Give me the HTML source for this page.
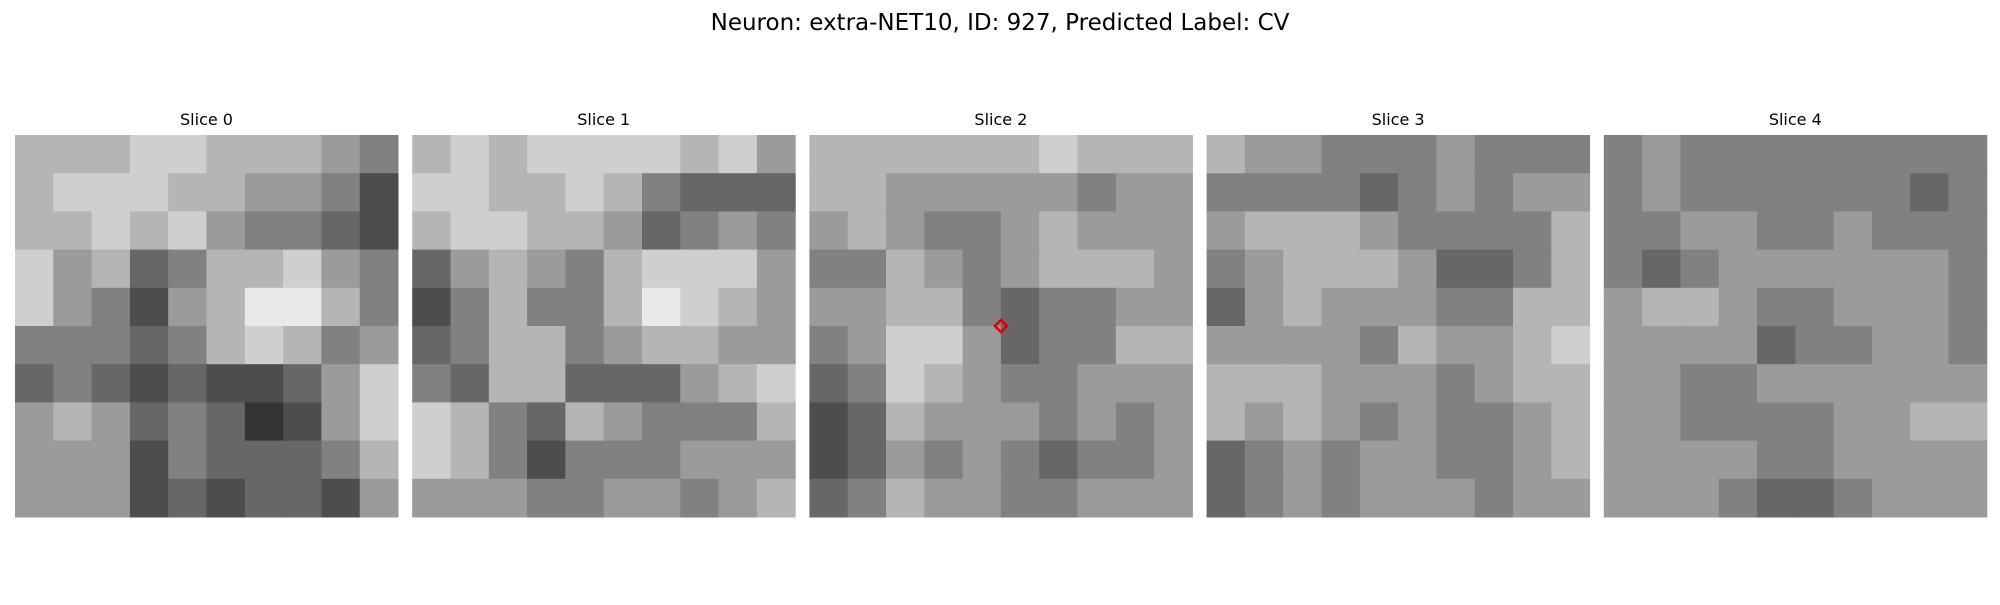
<!DOCTYPE html>
<html><head><meta charset="utf-8"><style>
body{margin:0;background:#fff;width:2000px;height:600px;overflow:hidden;font-family:"Liberation Sans","DejaVu Sans",sans-serif}
</style></head><body>
<svg id="chart" width="2000" height="600" xmlns="http://www.w3.org/2000/svg">
<text x="1000" y="30" text-anchor="middle" font-size="23" fill="#000" font-family="DejaVu Sans, sans-serif">Neuron: extra-NET10, ID: 927, Predicted Label: CV</text>
<g id="panels"></g>
</svg>
<script>
const sliceTitles = ["Slice 0","Slice 1","Slice 2","Slice 3","Slice 4"];
const slice0 = [[6,6,6,7,7,6,6,6,5,4],[6,7,7,7,6,6,5,5,4,2],[6,6,7,6,7,5,4,4,3,2],[7,5,6,3,4,6,6,7,5,4],[7,5,4,2,5,6,8,8,6,4],[4,4,4,3,4,6,7,6,4,5],[3,4,3,2,3,2,2,3,5,7],[5,6,5,3,4,3,1,2,5,7],[5,5,5,2,4,3,3,3,4,6],[5,5,5,2,3,2,3,3,2,5]];
const slice1 = [[6,7,6,7,7,7,7,6,7,5],[7,7,6,6,7,6,4,3,3,3],[6,7,7,6,6,5,3,4,5,4],[3,5,6,5,4,6,7,7,7,5],[2,4,6,4,4,6,8,7,6,5],[3,4,6,6,4,5,6,6,5,5],[4,3,6,6,3,3,3,5,6,7],[7,6,4,3,6,5,4,4,4,6],[7,6,4,2,4,4,4,5,5,5],[5,5,5,4,4,5,5,4,5,6]];
const slice2 = [[6,6,6,6,6,6,7,6,6,6],[6,6,5,5,5,5,5,4,5,5],[5,6,5,4,4,5,6,5,5,5],[4,4,6,5,4,5,6,6,6,5],[5,5,6,6,4,3,4,4,5,5],[4,5,7,7,5,3,4,4,6,6],[3,4,7,6,5,4,4,5,5,5],[2,3,6,5,5,5,4,5,4,5],[2,3,5,4,5,4,3,4,4,5],[3,4,6,5,5,4,4,5,5,5]];
const slice3 = [[6,5,5,4,4,4,5,4,4,4],[4,4,4,4,3,4,5,4,5,5],[5,6,6,6,5,4,4,4,4,6],[4,5,6,6,6,5,3,3,4,6],[3,5,6,5,5,5,4,4,6,6],[5,5,5,5,4,6,5,5,6,7],[6,6,6,5,5,5,4,5,6,6],[6,5,6,5,4,5,4,4,5,6],[3,4,5,4,5,5,4,4,5,6],[3,4,5,4,5,5,5,4,5,5]];
const slice4 = [[4,5,4,4,4,4,4,4,4,4],[4,5,4,4,4,4,4,4,3,4],[4,4,5,5,4,4,5,4,4,4],[4,3,4,5,5,5,5,5,5,4],[5,6,6,5,4,4,5,5,5,4],[5,5,5,5,3,4,4,5,5,4],[5,5,4,4,5,5,5,5,5,5],[5,5,4,4,4,4,5,5,6,6],[5,5,5,5,4,4,5,5,5,5],[5,5,5,4,3,3,4,5,5,5]];
const slices = [slice0, slice1, slice2, slice3, slice4];
const markerSlice = 2, markerRow = 4.5, markerCol = 4.5;

const NS = "http://www.w3.org/2000/svg";
const panelX0 = 15, panelStep = 397.2, panelW = 383, panelY = 135, panelH = 382;
const g = document.getElementById('panels');
function colorFor(v){ const c = Math.round(Math.max(0,Math.min(255, 25 + v*26))); return `rgb(${c},${c},${c})`; }
slices.forEach((grid, si) => {
  const px = panelX0 + si*panelStep;
  const grp = document.createElementNS(NS,'g');
  
  
  const t = document.createElementNS(NS,'text');
  
  
  t.setAttribute('x', px + panelW/2); t.setAttribute('y', 125);
  t.setAttribute('text-anchor','middle'); t.setAttribute('font-size','16');
  t.setAttribute('font-family','DejaVu Sans, sans-serif');
  t.textContent = sliceTitles[si];
  grp.appendChild(t);
  const rows = grid.length, cols = grid[0].length;
  const cw = panelW/cols, ch = panelH/rows;
  grid.forEach((row, r) => row.forEach((v, c) => {
    const rect = document.createElementNS(NS,'rect');
    
    
    rect.setAttribute('x', (px + c*cw).toFixed(2)); rect.setAttribute('y', (panelY + r*ch).toFixed(2));
    rect.setAttribute('width', (cw+0.5).toFixed(2)); rect.setAttribute('height', (ch+0.5).toFixed(2));
    rect.setAttribute('fill', colorFor(v));
    grp.appendChild(rect);
  }));
  if (si === markerSlice) {
    const mx = px + (markerCol+0.5)*cw, my = panelY + (markerRow+0.5)*ch;
    const m = document.createElementNS(NS,'polygon');
    
    
    m.setAttribute('points', `${mx},${my-6} ${mx+6},${my} ${mx},${my+6} ${mx-6},${my}`);
    m.setAttribute('fill','none'); m.setAttribute('stroke','#e00000'); m.setAttribute('stroke-width','2.5');
    grp.appendChild(m);
  }
  g.appendChild(grp);
});
</script>
</body></html>
